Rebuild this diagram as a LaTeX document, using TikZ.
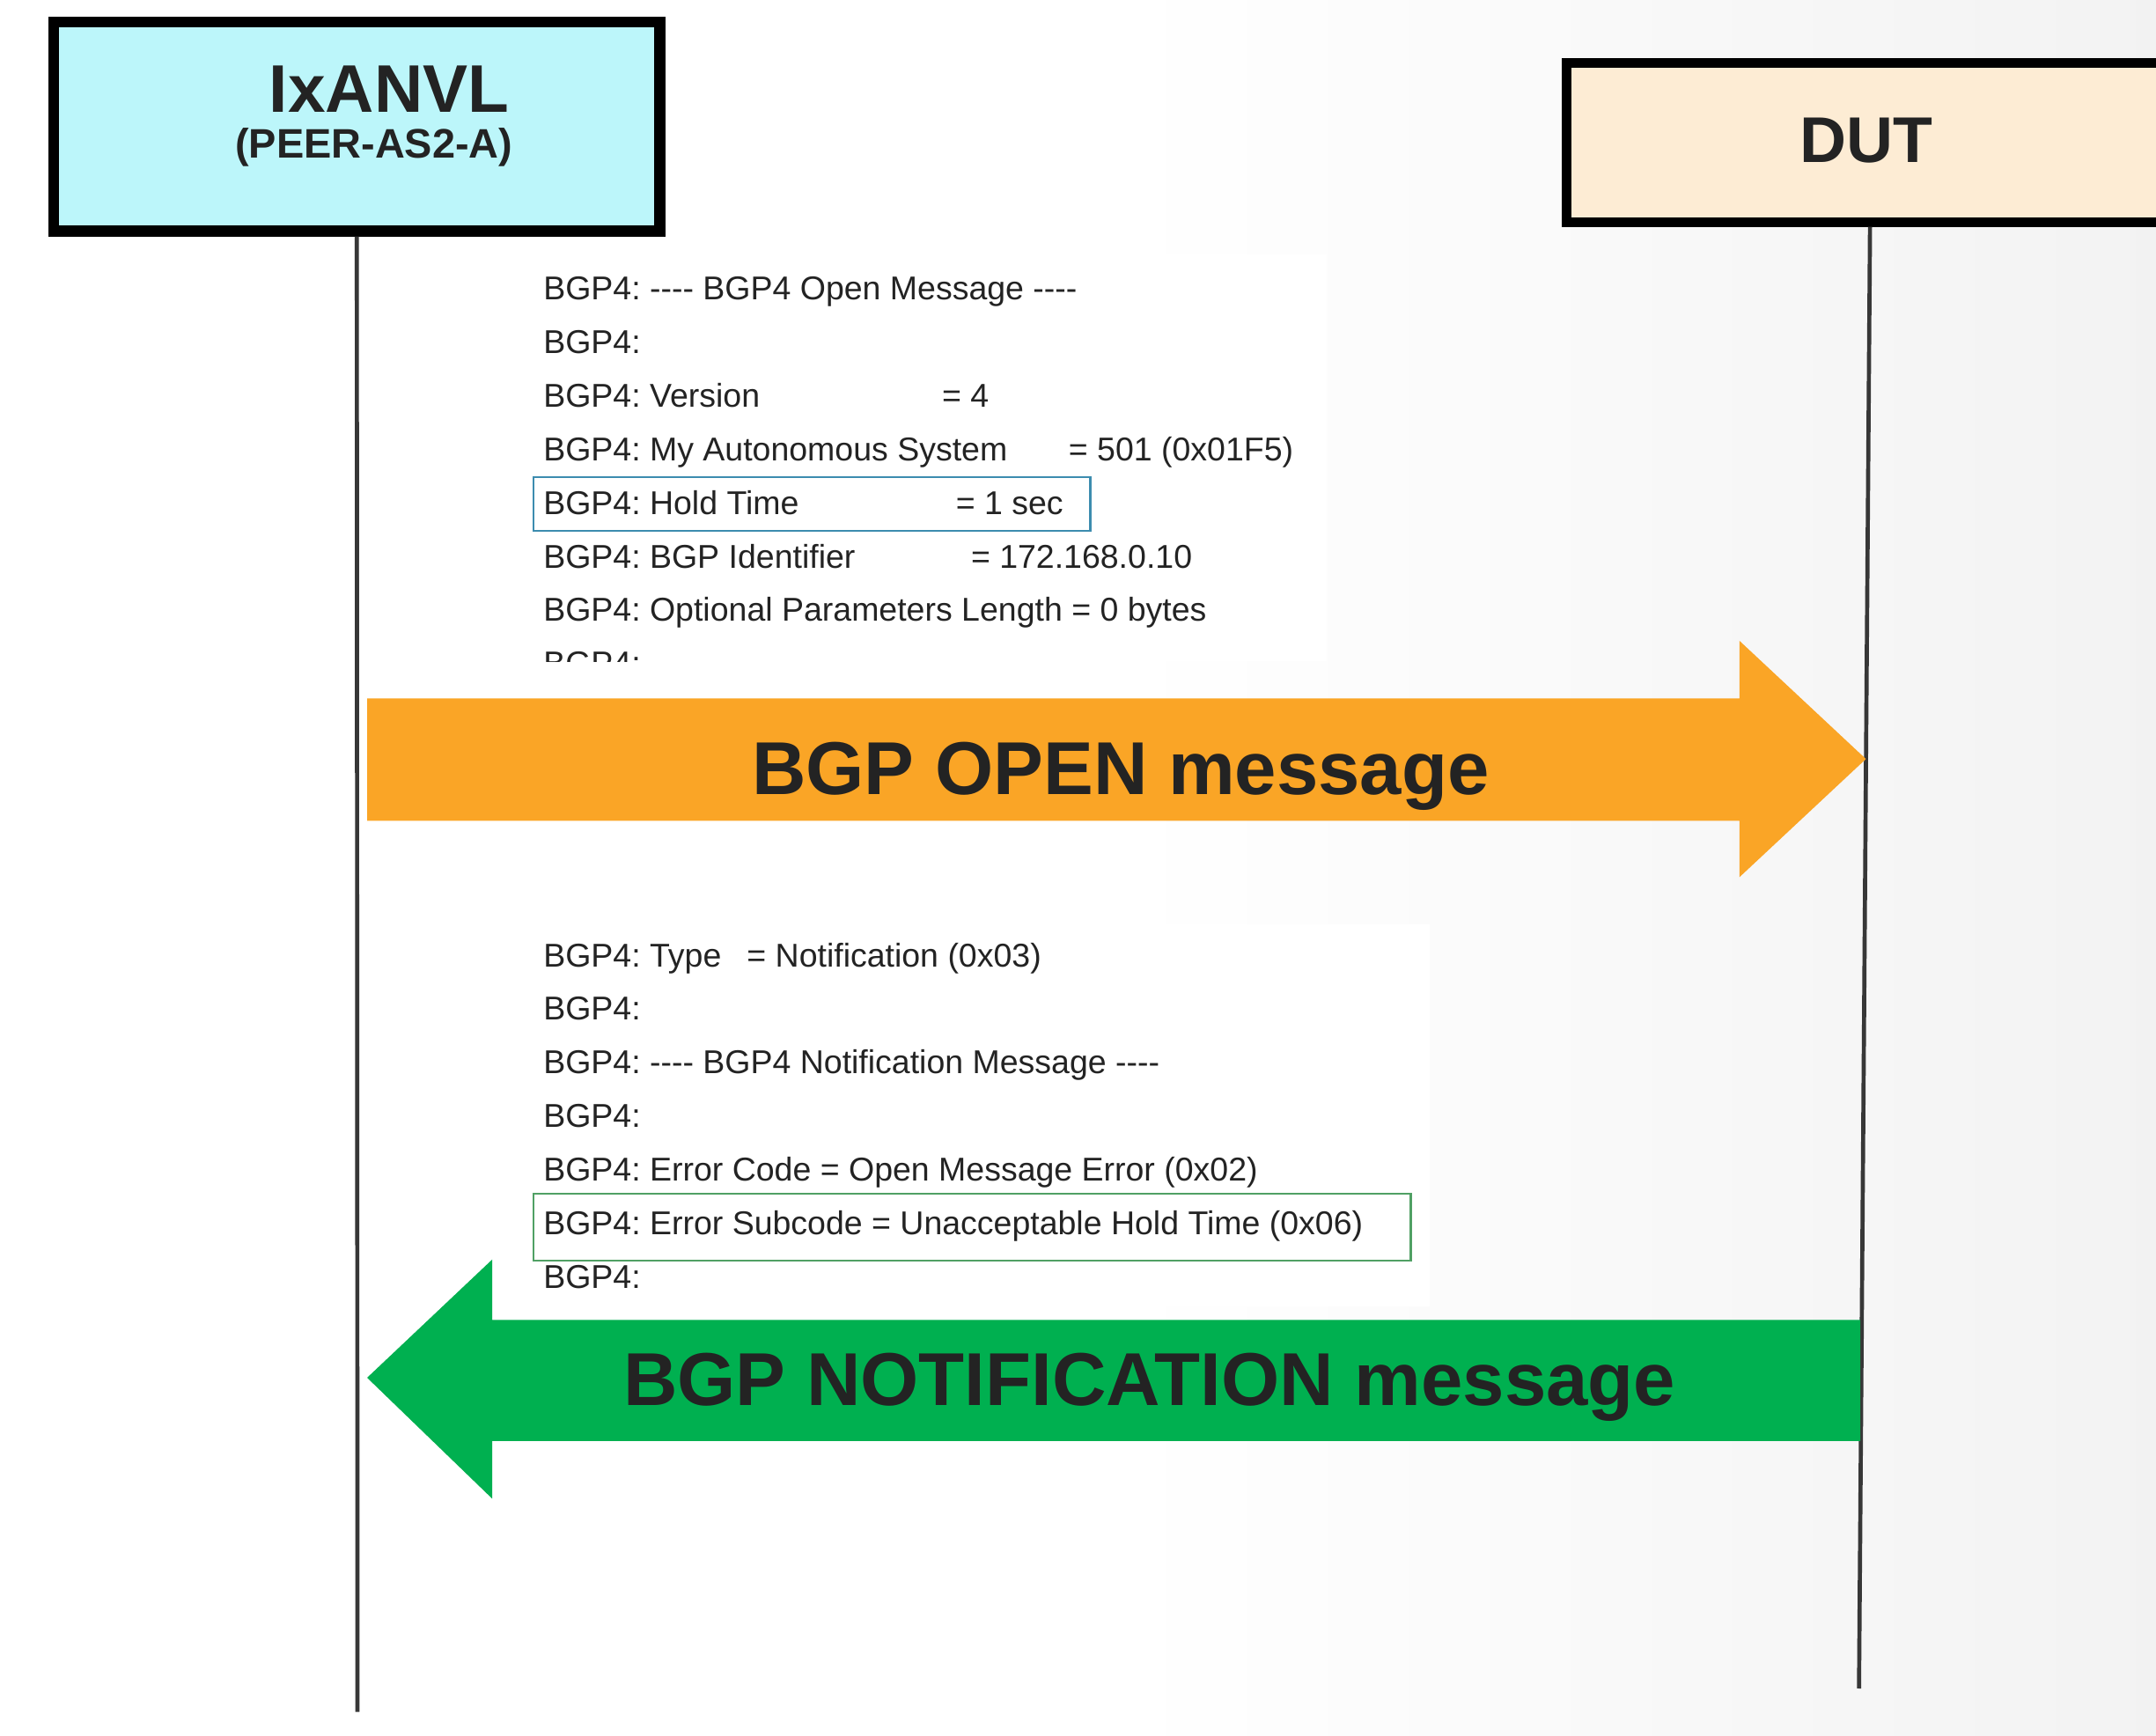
\documentclass[tikz,border=0pt]{standalone}
\usepackage{fontspec}
\setmainfont{Liberation Sans}
\usetikzlibrary{positioning}

\definecolor{boxcyan}{RGB}{188,246,250}
\definecolor{boxpeach}{RGB}{253,236,212}
\definecolor{openorange}{RGB}{250,165,38}
\definecolor{notifgreen}{RGB}{0,176,80}
\definecolor{holdblue}{RGB}{60,140,175}
\definecolor{subgreen}{RGB}{80,160,100}
\definecolor{lifegray}{RGB}{55,55,55}
\definecolor{inkdark}{RGB}{35,35,35}

\newcommand{\dashes}{-{}-{}-{}-}

\tikzset{
  actor/.style={draw=black, inner sep=0pt},
  logline/.style={anchor=base west, inner sep=0pt, text=inkdark,
    font=\fontsize{24}{24}\selectfont\frenchspacing},
  msgtext/.style={anchor=base, inner sep=0pt, text=inkdark,
    font=\fontsize{54.5}{54.5}\selectfont\bfseries},
  lifeline/.style={lifegray, line width=3pt},
}

\begin{document}
\begin{tikzpicture}[x=1pt, y=-1pt, >=stealth]
  \useasboundingbox (0,0) rectangle (1568,1262);
  \clip (0,0) rectangle (1568,1262);

  % Background
  \fill[white] (0,0) rectangle (820,1262);
  \shade[left color=white, right color=gray!10] (819,0) rectangle (1568,1262);
  \fill[white] (370,185) rectangle (965,481);
  \fill[white] (370,672) rectangle (1040,950);

  % Actor boxes
  \node[actor, line width=8pt, fill=boxcyan, minimum width=441pt,
    minimum height=152pt] (ixanvl) at (259.5,92) {};
  \node[font=\fontsize{49}{49}\selectfont\bfseries, text=inkdark]
    (ixanvl-name) at (283,65) {IxANVL};
  \node[font=\fontsize{30}{30}\selectfont\bfseries, text=inkdark]
    (ixanvl-as) at (272,107) {(PEER-AS2-A)};

  \node[actor, line width=7pt, fill=boxpeach, minimum width=470pt,
    minimum height=116pt] (dut) at (1374.5,103.5) {};
  \node[font=\fontsize{47}{47}\selectfont\bfseries, text=inkdark]
    (dut-name) at (1357,102) {DUT};

  % Lifelines
  \coordinate (ixanvl-end) at (260,1245);
  \coordinate (dut-top) at (1360,165);
  \coordinate (dut-end) at (1352,1228);
  \draw[lifeline] (ixanvl.south) -- (ixanvl-end);
  \draw[lifeline] (dut-top) -- (dut-end);

  % Open message log
  \node[logline] (l1) at (395,218) {BGP4: \dashes{} BGP4 Open Message \dashes};
  \node[logline] (l2) at (395,257) {BGP4:};
  \node[logline] (l3) at (395,296) {BGP4: Version};
  \node[logline] (v3) at (685,296) {= 4};
  \node[logline] (l4) at (395,335) {BGP4: My Autonomous System};
  \node[logline] (v4) at (777,335) {= 501 (0x01F5)};
  \node[logline] (l5) at (395,374) {BGP4: Hold Time};
  \node[logline] (v5) at (695,374) {= 1 sec};
  \node[logline] (l6) at (395,413) {BGP4: BGP Identifier};
  \node[logline] (v6) at (706,413) {= 172.168.0.10};
  \node[logline] (l7) at (395,452) {BGP4: Optional Parameters Length = 0 bytes};
  \begin{scope}
    \clip (380,460) rectangle (520,481);
    \node[logline] (l8) at (395,491) {BGP4:};
  \end{scope}
  \draw[holdblue, line width=1.5pt] (388,347) rectangle (793,386);

  % Open arrow
  \fill[openorange] (267,508) -- (1265,508) -- (1265,466) -- (1357,552)
    -- (1265,638) -- (1265,597) -- (267,597) -- cycle;
  \node[msgtext] (open-msg) at (815,578) {BGP OPEN message};

  % Notification log
  \node[logline] (n1) at (395,703) {BGP4: Type};
  \node[logline] (w1) at (543,703) {= Notification (0x03)};
  \node[logline] (n2) at (395,742) {BGP4:};
  \node[logline] (n3) at (395,781) {BGP4: \dashes{} BGP4 Notification Message \dashes};
  \node[logline] (n4) at (395,820) {BGP4:};
  \node[logline] (n5) at (395,859) {BGP4: Error Code = Open Message Error (0x02)};
  \node[logline] (n6) at (395,898) {BGP4: Error Subcode = Unacceptable Hold Time (0x06)};
  \node[logline] (n7) at (395,937) {BGP4:};
  \draw[subgreen, line width=1.5pt] (388,868) rectangle (1026,917);

  % Notification arrow
  \fill[notifgreen] (1353,960) -- (358,960) -- (358,916) -- (267,1002)
    -- (358,1090) -- (358,1048) -- (1353,1048) -- cycle;
  \node[msgtext] (notif-msg) at (836,1022) {BGP NOTIFICATION message};
\end{tikzpicture}
\end{document}
